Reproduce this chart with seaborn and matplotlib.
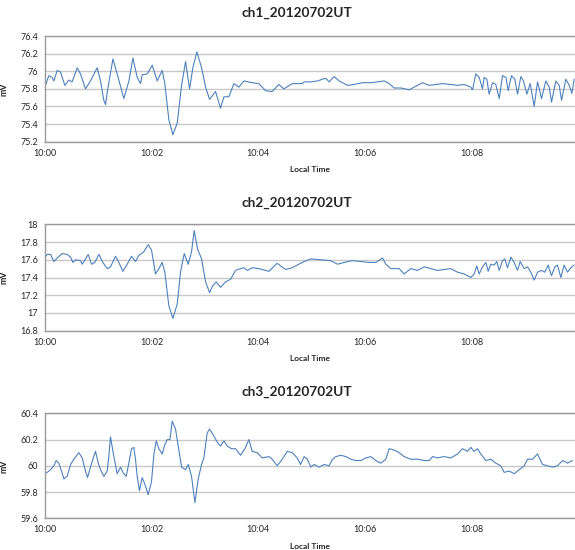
import pandas as pd
import matplotlib
matplotlib.use("Agg")
import matplotlib.pyplot as plt
import seaborn as sns

# values (seconds after 10:00, mV)
ch1_sec = [0, 4.5, 8.2, 10.1, 13.9, 17.6, 22.5, 27, 30.7, 36.4, 40.1, 45.7, 51.3, 58.8,
           62.6, 66.3, 68.2, 70.1, 76.5, 81.3, 88.8, 94.5, 99, 103.8, 107.6, 109.4, 115.1,
           120.7, 126.3, 131.9, 134.9, 139.4, 143.9, 148.8, 153.7, 158.2, 162.7, 166.4,
           170.9, 176.2, 180.7, 185.2, 191.9, 197.5, 201.3, 206.9, 212.5, 218.1, 223.8,
           233.1, 240.6, 248.1, 255.6, 263.1, 268.7, 278.1, 289.4,
           291.5, 299, 306.5, 312.1, 315.9, 319.6, 325.2, 330.9, 340.2, 347.7, 357.1,
           366.5, 374, 381.5, 387.1, 392.7, 400.2, 409.6, 417.1, 424.6, 432.1, 439.5,
           447, 456.4, 463.9, 471.4, 478.9, 480.8, 484.5, 488.3, 492, 493.9, 496.9,
           499.5, 503.3, 507, 510.8, 514.5, 518.3, 520.9, 524.6, 528.4, 531.4, 535.1,
           538.1, 541.9, 545.6, 550.1, 553.9, 558.4, 563.2, 567, 569.6, 574.5, 578.2,
           580.9, 585.7, 589.5, 592.5, 595.1]
ch1_mv = [75.82, 75.95, 75.93, 75.89, 76.01, 75.99, 75.84, 75.90, 75.88, 76.04, 75.97,
          75.80, 75.89, 76.04, 75.89, 75.67, 75.62, 75.76, 76.14, 75.97, 75.69, 75.89,
          76.15, 75.93, 75.86, 75.96, 75.97, 76.07, 75.89, 76.01, 75.86, 75.45, 75.28,
          75.41, 75.84, 76.11, 75.80, 76.04, 76.22, 76.04, 75.82, 75.68, 75.77, 75.58,
          75.71, 75.71, 75.86, 75.82, 75.89, 75.87, 75.86, 75.78, 75.77, 75.85, 75.80,
          75.86, 75.86,
          75.88, 75.88, 75.89, 75.91, 75.92, 75.88, 75.94, 75.89, 75.84, 75.85, 75.87,
          75.87, 75.88, 75.89, 75.86, 75.81, 75.81, 75.79, 75.83, 75.87, 75.84, 75.85,
          75.86, 75.85, 75.84, 75.85, 75.82, 75.79, 75.97, 75.93, 75.80, 75.93, 75.91,
          75.74, 75.87, 75.85, 75.69, 75.95, 75.93, 75.78, 75.95, 75.91, 75.74, 75.94,
          75.89, 75.74, 75.86, 75.60, 75.88, 75.69, 75.89, 75.82, 75.65, 75.89, 75.84,
          75.67, 75.91, 75.84, 75.75, 75.91]

ch2_sec = [0, 2.6, 6.4, 10.1, 13.9, 19.5, 25.1, 28.9, 31.5, 34.5, 40.1, 42, 45.7, 48.7,
           52.5, 56.2, 60.7, 65.2, 70.1, 73.8, 79.5, 83.2, 87.7, 92.6, 97.4, 101.9, 105.7,
           111.3, 116.2, 119.9, 124.4, 128.2, 131.9, 134.9, 139.4, 143.9, 148.8, 152.5,
           156.7, 161.2, 164.9, 167.9, 171.7, 176.2, 180.7, 185.2, 188.9, 192.6, 197.5,
           203.1, 208.8, 214.4, 220, 223.8, 227.5, 233.1, 240.6, 251.9, 261.2, 270.6,
           278.1, 285.6,
           291.5, 299, 310.2, 321.5, 329, 336.5, 345.8, 355.2, 364.6, 372.1, 379.6, 383.3,
           389, 398.3, 403.9, 411.4, 418.9, 426.4, 433.9, 441.4, 448.9, 456.4, 463.9,
           471.4, 478.9, 482.6, 485.6, 488.3, 492, 495.8, 498.4, 501.4, 505.1, 508.1,
           510.8, 514.5, 517.1, 520.1, 523.9, 527.6, 531.4, 534.4, 538.9, 542.6, 546.4,
           550.1, 553.9, 558.4, 562.1, 565.8, 569.6, 573.4, 576.3, 580.1, 583.8, 587.6,
           591.3, 595.1]
ch2_mv = [17.62, 17.66, 17.66, 17.58, 17.62, 17.67, 17.66, 17.63, 17.57, 17.60, 17.59,
          17.55, 17.61, 17.66, 17.55, 17.57, 17.66, 17.57, 17.50, 17.52, 17.64, 17.57,
          17.47, 17.55, 17.64, 17.58, 17.65, 17.69, 17.77, 17.71, 17.44, 17.50, 17.57,
          17.46, 17.08, 16.94, 17.10, 17.46, 17.67, 17.55, 17.69, 17.93, 17.72, 17.61,
          17.35, 17.23, 17.31, 17.35, 17.29, 17.35, 17.38, 17.48, 17.50, 17.51, 17.48,
          17.51, 17.50, 17.47, 17.56, 17.49, 17.51, 17.55,
          17.58, 17.61, 17.60, 17.59, 17.55, 17.57, 17.59, 17.58, 17.57, 17.57, 17.62,
          17.55, 17.50, 17.50, 17.44, 17.50, 17.48, 17.52, 17.50, 17.48, 17.49, 17.50,
          17.46, 17.44, 17.40, 17.44, 17.53, 17.44, 17.52, 17.57, 17.47, 17.55, 17.54,
          17.58, 17.48, 17.59, 17.61, 17.51, 17.63, 17.57, 17.48, 17.58, 17.50, 17.52,
          17.46, 17.37, 17.46, 17.48, 17.46, 17.54, 17.42, 17.52, 17.54, 17.40, 17.54,
          17.46, 17.51, 17.54]

ch3_sec = [0, 2.6, 6.4, 10.1, 12.7, 15.7, 18.7, 21.4, 25.1, 28.9, 32.6, 38.2, 42, 45.7,
           48, 51.3, 54, 57, 60, 62.6, 66.3, 70.1, 71.9, 73.8, 77.6, 81.3, 85.1, 87.7,
           91.5, 94.4, 97.4, 100, 101.9, 103.8, 106.4, 109.4, 112.4, 116.2, 119.9, 122.6,
           125.2, 128.2, 131.9, 134.9, 137.6, 140.6, 143.2, 146.9, 149.9, 153.7, 158.2,
           161.2, 164.9, 168.7, 172.4, 176.2, 178.8, 182.5, 185.2, 188.9, 193.8, 197.5,
           201.3, 205, 209.9, 214.4, 220, 224.9, 229.4, 233.1, 238.7, 244.4, 251.9, 255.6,
           261.2, 266.9, 272.5, 278.1, 283.7, 287.5,
           291.5, 295.2, 299, 302.7, 308.4, 314, 319.6, 323.4, 327.1, 332.7, 338.4, 344,
           349.6, 355.2, 360.8, 366.5, 372.1, 377.7, 383.3, 387.1, 392.7, 398.3, 403.9,
           411.4, 418.9, 426.4, 432.1, 435.8, 441.4, 448.9, 456.4, 463.9, 469.5, 475.2,
           478.9, 482.6, 486.4, 490.1, 495.8, 501.4, 507, 512.6, 516.4, 522, 527.6, 533.2,
           538.9, 542.6, 548.2, 553.9, 559.5, 565.1, 570.7, 576.3, 582, 587.6, 593.2]
ch3_mv = [59.94, 59.95, 59.97, 60.00, 60.04, 60.02, 59.96, 59.90, 59.92, 60.01, 60.05,
          60.10, 60.06, 59.96, 59.91, 59.99, 60.05, 60.11, 60.02, 59.97, 59.92, 59.96,
          60.07, 60.22, 60.07, 59.94, 59.99, 59.95, 59.92, 60.02, 60.13, 60.14, 60.05,
          59.92, 59.81, 59.91, 59.86, 59.78, 59.88, 60.09, 60.19, 60.13, 60.09, 60.16,
          60.20, 60.20, 60.34, 60.28, 60.15, 59.99, 59.97, 60.01, 59.92, 59.72, 59.90,
          60.01, 60.06, 60.25, 60.28, 60.24, 60.18, 60.15, 60.19, 60.15, 60.13, 60.13,
          60.08, 60.13, 60.20, 60.11, 60.10, 60.06, 60.07, 60.05, 60.00, 60.05, 60.11,
          60.10, 60.06, 60.01,
          60.07, 60.05, 59.99, 60.01, 59.99, 60.01, 60.00, 60.05, 60.07, 60.08, 60.07,
          60.05, 60.04, 60.04, 60.06, 60.07, 60.04, 60.02, 60.05, 60.13, 60.12, 60.10,
          60.07, 60.05, 60.05, 60.04, 60.04, 60.07, 60.06, 60.07, 60.06, 60.09, 60.13,
          60.11, 60.14, 60.11, 60.13, 60.09, 60.04, 60.05, 60.02, 60.00, 59.95, 59.96,
          59.94, 59.97, 60.00, 60.05, 60.05, 60.09, 60.01, 60.00, 59.99, 60.00, 60.04,
          60.02, 60.04]

titles = ["ch1_20120702UT", "ch2_20120702UT", "ch3_20120702UT"]
x_ticks = [0, 120, 240, 360, 480]
x_labels = ["10:00", "10:02", "10:04", "10:06", "10:08"]
y_ticks = [[75.2, 75.4, 75.6, 75.8, 76.0, 76.2, 76.4],
           [16.8, 17.0, 17.2, 17.4, 17.6, 17.8, 18.0],
           [59.6, 59.8, 60.0, 60.2, 60.4]]
y_labels = [["75.2", "75.4", "75.6", "75.8", "76", "76.2", "76.4"],
            ["16.8", "17", "17.2", "17.4", "17.6", "17.8", "18"],
            ["59.6", "59.8", "60", "60.2", "60.4"]]

sns.set_theme(style="white")
plt.rcParams["font.family"] = ["Lato", "DejaVu Sans"]

fig = plt.figure(figsize=(5.75, 5.5), dpi=100)

# axes boxes: [left, bottom, width, height] in figure fraction
boxes = [[0.078, 0.7424, 0.922, 0.192],
         [0.078, 0.3987, 0.922, 0.1935],
         [0.078, 0.0576, 0.922, 0.191]]
title_y = [0.976, 0.631, 0.288]

series = [(ch1_sec, ch1_mv), (ch2_sec, ch2_mv), (ch3_sec, ch3_mv)]
for i, (sec, mv) in enumerate(series):
    ax = fig.add_axes(boxes[i])
    df = pd.DataFrame({"sec": sec, "mV": mv})
    sns.lineplot(data=df, x="sec", y="mV", ax=ax, color="#4f81bd",
                 linewidth=0.8, estimator=None, sort=False)
    ax.set_xlim(0, 596)
    ax.set_ylim(y_ticks[i][0], y_ticks[i][-1])
    ax.set_xticks(x_ticks)
    ax.set_xticklabels(x_labels, fontsize=6.5)
    ax.set_yticks(y_ticks[i])
    ax.set_yticklabels(y_labels[i], fontsize=6.5)
    ax.tick_params(length=0, pad=5)
    ax.yaxis.grid(True, color="#c8c8c8", linewidth=1.0)
    ax.set_axisbelow(True)
    ax.spines["right"].set_visible(False)
    for side in ["left", "bottom", "top"]:
        ax.spines[side].set_color("#999999")
        ax.spines[side].set_linewidth(1.0)
    ax.set_xlabel("Local Time", fontsize=6, fontweight="bold", labelpad=6)
    ax.set_ylabel("mV", fontsize=6.5, fontweight="bold", labelpad=8)
    fig.text(0.517, title_y[i], titles[i], ha="center", va="center",
             fontsize=9.8, fontweight="bold")

fig.savefig("out.png", dpi=100)
